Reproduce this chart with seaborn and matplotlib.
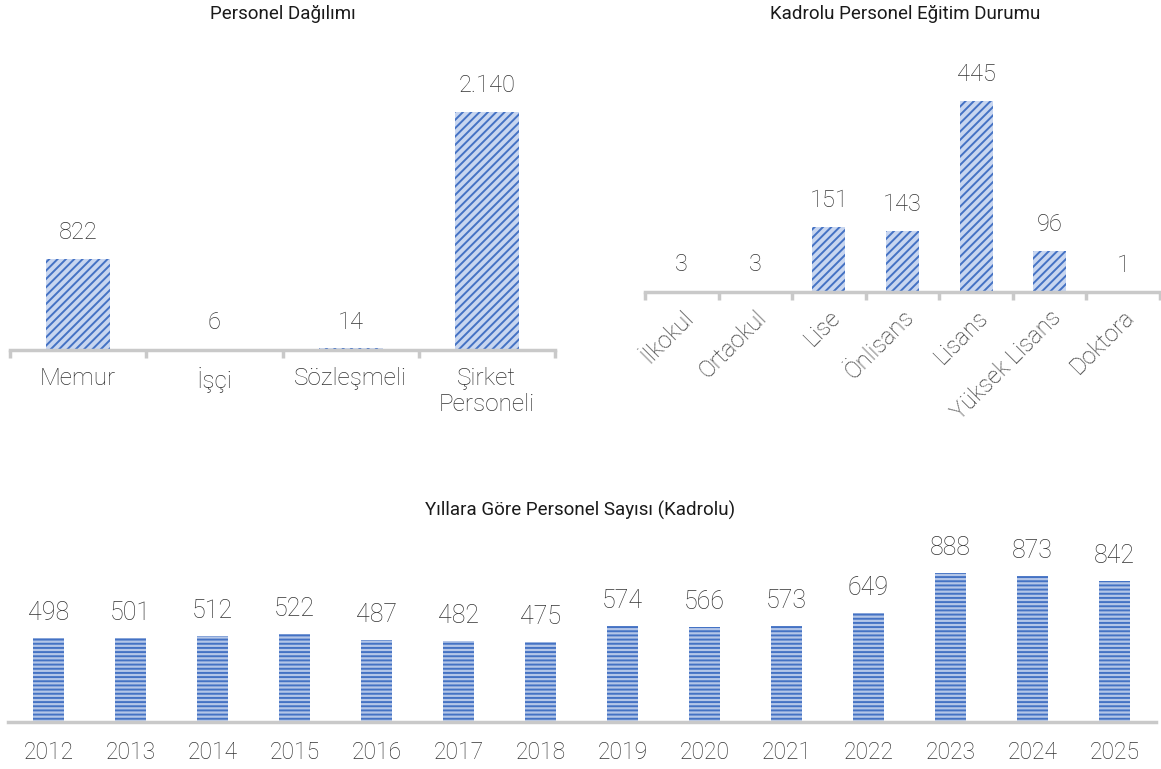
import matplotlib
matplotlib.use('Agg')
import matplotlib.pyplot as plt
import seaborn as sns

# data
dagilim_cats = ['Memur', 'İşçi', 'Sözleşmeli', 'Şirket\nPersoneli']
dagilim_vals = [822, 6, 14, 2140]
dagilim_lbls = ['822', '6', '14', '2.140']

egitim_cats = ['İlkokul', 'Ortaokul', 'Lise', 'Önlisans', 'Lisans', 'Yüksek Lisans', 'Doktora']
egitim_vals = [3, 3, 151, 143, 445, 96, 1]

yillar = ['2012', '2013', '2014', '2015', '2016', '2017', '2018',
          '2019', '2020', '2021', '2022', '2023', '2024', '2025']
yil_vals = [498, 501, 512, 522, 487, 482, 475, 574, 566, 573, 649, 888, 873, 842]

sns.set_style('white')
plt.rcParams['font.family'] = ['Roboto', 'DejaVu Sans']
plt.rcParams['font.weight'] = 'light'
plt.rcParams['hatch.linewidth'] = 1.4

TXT = '#333333'
AXC = '#c9c9c9'
BLUE = '#4472c4'

W, H = 1161, 769
fig = plt.figure(figsize=(W / 100, H / 100), dpi=100)


def box(x0, x1, ytop, ybot):
    return [x0 / W, 1 - ybot / H, (x1 - x0) / W, (ybot - ytop) / H]


def style(ax, n, ymax, ticks=True):
    ax.set_xlim(-0.5, n - 0.5)
    ax.set_ylim(0, ymax)
    for s in ['top', 'right', 'left']:
        ax.spines[s].set_visible(False)
    ax.spines['bottom'].set_color(AXC)
    ax.spines['bottom'].set_linewidth(2.5)
    ax.set_yticks([])
    ax.set_xlabel('')
    ax.set_ylabel('')
    ax.tick_params(axis='x', which='major', length=0, colors=TXT)
    if ticks:
        ax.set_xticks([i - 0.5 for i in range(n + 1)], minor=True)
        ax.tick_params(axis='x', which='minor', bottom=True, length=6, width=2.5,
                       color=AXC, direction='out')


def hatch_bars(ax, hatch, face):
    for p in ax.patches:
        p.set_facecolor(face)
        p.set_edgecolor(BLUE)
        p.set_linewidth(0)
        p.set_hatch(hatch)


# Personel Dağılımı
ax1 = fig.add_axes(box(10, 555, 40, 350))
sns.barplot(x=dagilim_cats, y=dagilim_vals, ax=ax1, color=BLUE, width=0.47)
hatch_bars(ax1, '////', '#c8d6f0')
style(ax1, len(dagilim_cats), 2140 * 310 / 238)
ax1.tick_params(axis='x', labelsize=17.5, pad=12)
for i, (v, t) in enumerate(zip(dagilim_vals, dagilim_lbls)):
    ax1.annotate(t, (i, v), xytext=(0, 19), textcoords='offset points',
                 ha='center', va='center', fontsize=17, color=TXT)
fig.text(283 / W, 1 - 14 / H, 'Personel Dağılımı', ha='center', va='center',
         fontsize=13.5, color='#1a1a1a', fontweight='normal')

# Kadrolu Personel Eğitim Durumu
ax2 = fig.add_axes(box(645, 1160, 40, 292))
sns.barplot(x=egitim_cats, y=egitim_vals, ax=ax2, color=BLUE, width=0.45)
hatch_bars(ax2, '////', '#c8d6f0')
style(ax2, len(egitim_cats), 445 * 252 / 191)
ax2.tick_params(axis='x', labelsize=17, pad=10)
for lb in ax2.get_xticklabels():
    lb.set_rotation(45)
    lb.set_ha('right')
    lb.set_va('top')
    lb.set_rotation_mode('anchor')
for i, v in enumerate(egitim_vals):
    ax2.annotate(str(v), (i, v), xytext=(0, 19), textcoords='offset points',
                 ha='center', va='center', fontsize=17, color=TXT)
fig.text(905 / W, 1 - 14 / H, 'Kadrolu Personel Eğitim Durumu', ha='center', va='center',
         fontsize=13.5, color='#1a1a1a', fontweight='normal')

# Yıllara Göre Personel Sayısı
ax3 = fig.add_axes(box(7.5, 1155.5, 530, 722))
sns.barplot(x=yillar, y=yil_vals, ax=ax3, color=BLUE, width=0.38)
hatch_bars(ax3, '----', '#b4c6e8')
style(ax3, len(yillar), 888 * 192 / 149, ticks=False)
ax3.tick_params(axis='x', labelsize=16.5, pad=14)
for i, v in enumerate(yil_vals):
    ax3.annotate(str(v), (i, v), xytext=(0, 18), textcoords='offset points',
                 ha='center', va='center', fontsize=18, color=TXT)
fig.text(580 / W, 1 - 510 / H, 'Yıllara Göre Personel Sayısı (Kadrolu)', ha='center', va='center',
         fontsize=13.5, color='#1a1a1a', fontweight='normal')

fig.savefig('out.png', dpi=100)
